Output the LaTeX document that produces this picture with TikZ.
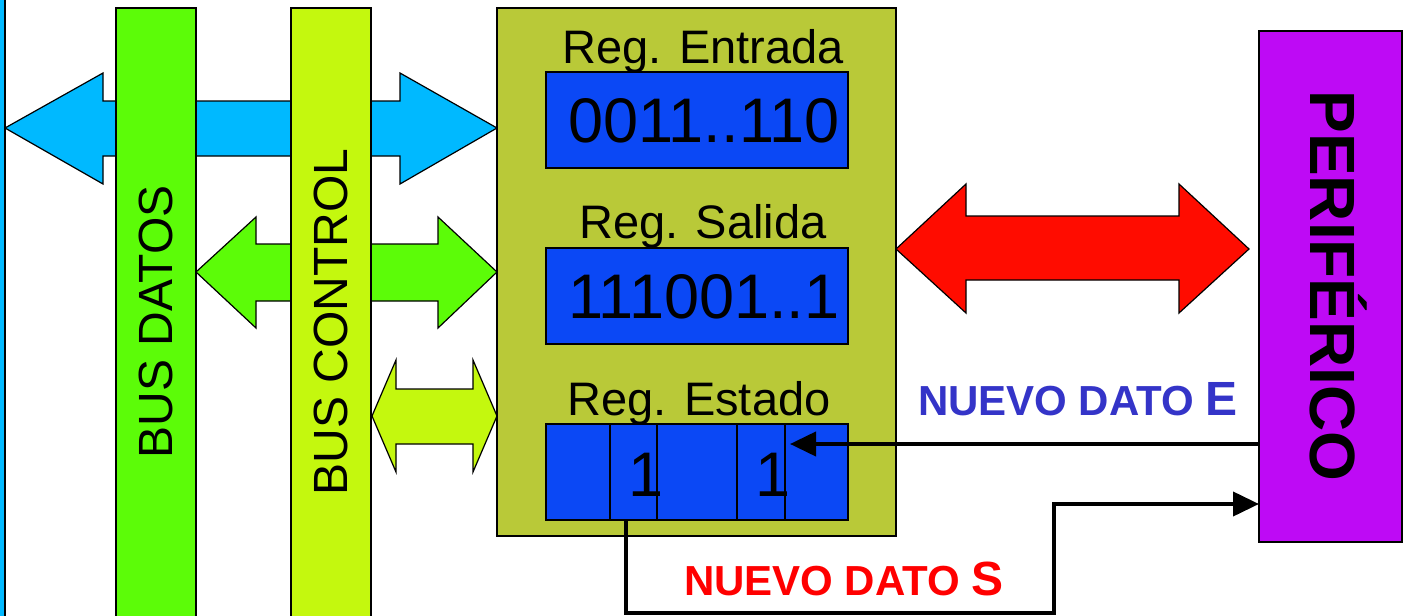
\documentclass[tikz,border=0pt]{standalone}
\usepackage{fontspec}
\setmainfont{Liberation Sans}
\usetikzlibrary{arrows.meta}
\definecolor{skyb}{RGB}{0,185,255}
\definecolor{busg}{RGB}{92,252,8}
\definecolor{busc}{RGB}{196,248,14}
\definecolor{olive}{RGB}{185,201,56}
\definecolor{regb}{RGB}{11,72,245}
\definecolor{redar}{RGB}{255,12,0}
\definecolor{perif}{RGB}{190,10,245}
\definecolor{nblue}{RGB}{52,52,200}
\definecolor{nred}{RGB}{255,0,0}
\begin{document}
\begin{tikzpicture}[x=0.5pt,y=-0.5pt,
  bx/.style={draw=black, line width=0.75pt, inner sep=0pt, outer sep=0pt, anchor=north west},
  arr/.style={draw=black, line width=0.6pt, line join=miter},
  conn/.style={draw=black, line width=2pt},
  tipa/.style={-{Triangle[length=13pt,width=12pt]}},
  txt/.style={inner sep=0pt, outer sep=0pt, anchor=base},
  regfont/.style={font=\fontsize{23.5}{28}\selectfont},
  digfont/.style={font=\fontsize{31.5}{36}\selectfont},
  busfont/.style={font=\fontsize{24}{28}\selectfont}
]
\useasboundingbox (0,0) rectangle (1405,616);
% left bar (CPU)
\node[bx, fill=skyb, minimum width=12.5pt, minimum height=360pt] (cpu) at (-20,-20) {};
% bus arrows
\path[arr, fill=skyb] (5,128) -- (103,73) -- (103,101) -- (400,101) -- (400,73) -- (497,128)
  -- (400,184) -- (400,156) -- (103,156) -- (103,184) -- cycle;
\path[arr, fill=busg] (196,272) -- (256,217) -- (256,244) -- (438,244) -- (438,217) -- (497,272)
  -- (438,328) -- (438,301) -- (256,301) -- (256,328) -- cycle;
\path[arr, fill=busc] (372,416) -- (396,360) -- (396,389) -- (473,389) -- (473,360) -- (497,416)
  -- (473,472) -- (473,444) -- (396,444) -- (396,472) -- cycle;
% buses
\node[bx, fill=busg, minimum width=40pt, minimum height=320pt] (busdatos) at (116,8) {};
\node[bx, fill=busc, minimum width=40pt, minimum height=320pt] (buscontrol) at (291,8) {};
\node[txt, busfont, rotate=90] (tdatos) at (172,322) {BUS DATOS};
\node[txt, busfont, rotate=90] (tcontrol) at (347,322) {BUS CONTROL};
% interface
\node[bx, fill=olive, minimum width=199.5pt, minimum height=264pt] (iface) at (497,8) {};
\node[txt, regfont] (lent) at (703,63) {Reg. Entrada};
\node[bx, fill=regb, minimum width=151pt, minimum height=48pt] (rent) at (546,72) {};
\node[txt, digfont] (vent) at (704,142) {0011..110};
\node[txt, regfont] (lsal) at (703,238) {Reg. Salida};
\node[bx, fill=regb, minimum width=151pt, minimum height=48pt] (rsal) at (546,248) {};
\node[txt, digfont] (vsal) at (704,318) {111001..1};
\node[txt, regfont] (lest) at (699,415) {Reg. Estado};
\node[bx, fill=regb, minimum width=32pt, minimum height=48pt] (e1) at (546,424) {};
\node[bx, fill=regb, minimum width=23.5pt, minimum height=48pt] (e2) at (e1.north east) {};
\node[bx, fill=regb, minimum width=40pt, minimum height=48pt] (e3) at (e2.north east) {};
\node[bx, fill=regb, minimum width=24pt, minimum height=48pt] (e4) at (e3.north east) {};
\node[bx, fill=regb, minimum width=31.5pt, minimum height=48pt] (e5) at (e4.north east) {};
\node[txt, digfont] (b2) at (646,496) {1};
\node[txt, digfont] (b4) at (773,496) {1};
% peripheral
\node[bx, fill=perif, minimum width=71.5pt, minimum height=255.5pt] (peri) at (1259,31) {};
\node[txt, rotate=-90, font=\bfseries\fontsize{32}{36}\selectfont] (tperi) at (1310,286) {PERIFÉRICO};
% red data arrow
\path[arr, fill=redar] (896,249) -- (966,184) -- (966,216) -- (1179,216) -- (1179,184) -- (1249,249)
  -- (1179,313) -- (1179,280) -- (966,280) -- (966,313) -- cycle;
% status lines
\coordinate (ey) at (0,444);
\coordinate (sb) at (1054,613);
\coordinate (sp) at (0,504);
\draw[conn, tipa] (peri.west |- ey) -- ([xshift=2.5pt]e5.west |- ey);
\draw[conn, tipa] ([xshift=-3.75pt]e2.south) |- (sb) |- (peri.west |- sp);
\node[txt, anchor=base west, text=nblue, font=\bfseries] (ne) at (918,415)
  {{\fontsize{21}{25}\selectfont NUEVO DATO }{\fontsize{24}{28}\selectfont E}};
\node[txt, anchor=base west, text=nred, font=\bfseries] (ns) at (684,595)
  {{\fontsize{21}{25}\selectfont NUEVO DATO }{\fontsize{24}{28}\selectfont S}};
\end{tikzpicture}
\end{document}
